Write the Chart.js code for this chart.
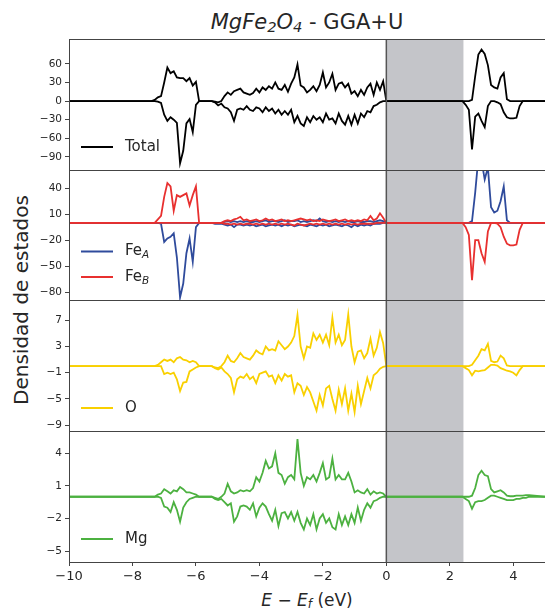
<!DOCTYPE html>
<html>
<head>
<meta charset="UTF-8">
<title>MgFe2O4 - GGA+U</title>
<script src="https://cdn.jsdelivr.net/npm/chart.js"></script>
<style>
    body { margin: 0; background: #fff; font-family: "DejaVu Sans", sans-serif; color: #262626; }
    .wrap { position: relative; width: 545px; height: 610px; overflow: hidden; }
    .wrap canvas { position: absolute; left: 0; }
    .title { position: absolute; left: 307px; top: 22px; transform: translate(-50%, -50%); font-size: 21px; white-space: nowrap; line-height: 1; }
    .ylabel { position: absolute; left: 21px; top: 300px; transform: translate(-50%, -50%) rotate(-90deg); font-size: 20px; white-space: nowrap; line-height: 1; }
    .xlabel { position: absolute; left: 307px; top: 600px; transform: translate(-50%, -50%); font-size: 17px; white-space: nowrap; line-height: 1; }
    sub { font-size: 70%; line-height: 0; vertical-align: -0.25em; }
</style>
</head>
<body>
<div class="wrap">
    <div class="title"><i>MgFe<sub>2</sub>O<sub>4</sub></i> - GGA+U</div>
    <div class="ylabel">Densidad de estados</div>
    <div class="xlabel"><i>E</i> &minus; <i>E<sub>f</sub></i> (eV)</div>
    <canvas id="pTotal" width="545" height="155" style="top:27px"></canvas>
    <canvas id="pFe" width="545" height="154" style="top:158px"></canvas>
    <canvas id="pO" width="545" height="155" style="top:288px"></canvas>
    <canvas id="pMg" width="545" height="191" style="top:419px"></canvas>
</div>
<script>
// energy grids (eV): valence region and conduction region
const eVB = [-7.5,-7.4,-7.3,-7.2,-7.1,-7.0,-6.9,-6.8,-6.7,-6.6,
             -6.5,-6.4,-6.3,-6.2,-6.1,-6.0,-5.9,-5.8,-5.7,-5.6,
             -5.5,-5.4,-5.3,-5.2,-5.1,-5.0,-4.9,-4.8,-4.7,-4.6,
             -4.5,-4.4,-4.3,-4.2,-4.1,-4.0,-3.9,-3.8,-3.7,-3.6,
             -3.5,-3.4,-3.3,-3.2,-3.1,-3.0,-2.9,-2.8,-2.7,-2.6,
             -2.5,-2.4,-2.3,-2.2,-2.1,-2.0,-1.9,-1.8,-1.7,-1.6,
             -1.5,-1.4,-1.3,-1.2,-1.1,-1.0,-0.9,-0.8,-0.7,-0.6,
             -0.5,-0.4,-0.3,-0.2,-0.1,0.0];
const eCB = [2.4,2.5,2.6,2.7,2.8,2.9,3.0,3.1,3.2,3.3,3.4,3.5,3.6,3.7,3.8,3.9,4.0,4.1,4.2,4.3,4.4,4.5];

// Total
const totalUpVB = [0,0,2,6,8,30,54,45,48,38,
                   37,37,32,37,25,31,0,0,0,0,
                   0,-1,-2,0,8,14,10,16,18,20,
                   14,12,10,13,20,14,22,18,24,20,
                   30,20,18,26,15,28,38,59,25,22,
                   14,18,24,16,26,46,22,30,44,18,
                   28,30,22,28,12,16,8,18,10,22,
                   28,10,30,18,32,0];
const totalDnVB = [0,0,0,-1,-3,-22,-32,-26,-30,-35,
                   -100,-80,-36,-29,-50,-6,0,0,0,0,
                   0,-2,-7,-4,-10,-12,-18,-32,-14,-12,
                   -14,-8,-14,-16,-10,-12,-18,-10,-16,-12,
                   -20,-14,-22,-16,-22,-14,-34,-24,-36,-40,
                   -26,-34,-24,-30,-26,-34,-20,-30,-28,-36,
                   -20,-32,-38,-24,-38,-22,-36,-20,-26,-16,
                   -18,-8,-6,-2,0,0];
const totalUpCB = [0,0,0,2,40,75,83,76,58,26,22,20,38,45,3,0,0,0,0,0,0,0];
const totalDnCB = [0,-6,-14,-78,-25,-20,-32,-42,-8,0,0,-2,-5,-18,-26,-28,-28,-27,-8,0,0,0];

// Fe A (tetrahedral) and Fe B (octahedral)
const feAUpVB = [0,0,0,0,0,0,0,0,0,0,
                 0,0,0,0,0,0,0,0,0,0,
                 0,0,0,0,1,2,1,2,1,2,
                 1,2,1,1,2,1,2,3,1,2,
                 2,1,2,3,1,2,2,3,1,2,
                 1,2,3,2,5,2,1,2,1,2,
                 1,2,1,2,1,1,2,1,1,2,
                 2,1,2,3,2,0];
const feADnVB = [0,0,0,0,-1,-22,-18,-16,-12,-40,
                 -86,-70,-35,-18,-45,-5,0,0,0,0,
                 0,-1,-1,-1,-2,-3,-2,-5,-2,-2,
                 -3,-2,-3,-2,-4,-3,-2,-4,-3,-2,
                 -3,-2,-4,-2,-3,-2,-4,-3,-2,-3,
                 -4,-2,-3,-4,-2,-3,-2,-4,-3,-2,
                 -3,-4,-2,-3,-5,-2,-4,-2,-3,-2,
                 -3,-1,-1,-1,0,0];
const feBUpVB = [0,0,0,4,8,30,46,42,14,32,
                 30,32,34,20,32,42,0,0,0,0,
                 0,0,0,0,2,3,2,4,5,7,
                 3,4,2,3,4,2,3,5,3,4,
                 2,3,4,2,3,2,3,4,5,4,
                 3,4,2,3,2,4,3,2,3,4,
                 2,3,4,2,3,2,3,2,4,3,
                 8,3,5,11,6,0];
const feBDnVB = [0,0,0,0,0,0,0,0,0,0,
                 0,0,0,0,0,0,0,0,0,0,
                 0,0,0,0,-1,-1,-2,-1,-2,-1,
                 -2,-1,-1,-2,-1,-2,-1,-2,-1,-2,
                 -1,-2,-1,-2,-1,-2,-3,-1,-2,-3,
                 -2,-1,-2,-1,-2,-1,-2,-1,-2,-1,
                 -2,-1,-2,-1,-2,-1,-2,-1,-1,-1,
                 -1,-1,0,0,0,0];
const feAUpCB = [0,0,0,2,35,75,72,50,64,18,12,14,25,42,3,0,0,0,0,0,0,0];
const feADnCB = [0,0,0,0,0,0,0,0,0,0,0,0,0,0,0,0,0,0,0,0,0,0];
const feBUpCB = [0,0,0,0,0,0,0,0,0,0,0,0,0,0,0,0,0,0,0,0,0,0];
const feBDnCB = [0,-5,-14,-66,-20,-20,-35,-45,-10,0,0,-1,-5,-16,-24,-26,-26,-25,-8,0,0,0];

// O
const oUpVB = [0,0,0,0.2,0.6,1.0,0.8,1.0,0.6,1.2,
               1.4,1.0,0.9,0.6,0.8,0.6,0,0,0,0,
               0,-0.2,-0.3,0,0.6,1.6,0.8,0.6,1.2,2.0,
               1.4,1.2,1.0,1.6,2.4,2.0,1.8,3.0,2.4,2.6,
               2.4,3.8,3.2,2.6,3.0,3.6,4.6,7.8,3.0,1.2,
               3.0,2.8,5.0,4.0,4.8,3.6,4.8,3.2,7.4,3.6,
               4.8,3.2,4.0,7.9,3.0,0.6,2.2,2.4,1.2,2.0,
               4.2,1.6,2.8,5.2,3.5,0];
const oDnVB = [0,0,0,0,0,-1.2,-1.0,-1.2,-1.0,-2.0,
               -3.8,-2.5,-2.4,-0.8,-0.5,-0.2,0,0,0,0,
               0,-0.3,-0.5,-0.2,-0.8,-1.2,-1.8,-4.0,-2.0,-1.6,
               -1.8,-1.2,-2.0,-1.6,-2.6,-1.2,-1.0,-0.8,-1.6,-1.4,
               -2.6,-1.4,-2.2,-1.2,-1.6,-1.4,-4.0,-2.6,-3.0,-4.4,
               -3.2,-4.0,-5.4,-6.8,-4.4,-6.0,-3.4,-3.0,-5.0,-6.8,
               -3.6,-5.8,-3.4,-6.8,-4.2,-7.0,-3.0,-5.8,-3.8,-1.8,
               -3.4,-1.4,-1.0,-0.4,-0.1,0];
const oUpCB = [0,0,0,0.2,0.9,1.6,2.6,2.4,3.4,0.8,0.6,0.7,1.6,1.2,0.1,0,0,0,0,0,0,0];
const oDnCB = [0,-0.3,-0.6,-1.4,-0.7,-0.8,-0.7,-0.6,-0.2,0.2,0.2,0.1,-0.3,-0.5,-0.7,-0.8,-1.0,-1.4,-0.6,0,0,0];

// Mg
const mgUpVB = [0,0,0,0.2,0.3,0.7,0.5,0.3,0.6,0.5,
                0.9,0.7,0.4,0.4,0.3,0.2,0,0,0,0,
                0,-0.1,-0.2,0,0.3,1.2,0.5,0.3,0.4,0.6,
                0.5,0.6,0.5,0.8,1.8,1.4,2.2,3.3,2.6,2.8,
                4.0,2.2,2.0,1.2,1.8,2.0,1.6,5.3,2.2,1.0,
                1.8,1.6,2.0,1.4,2.2,3.1,1.6,1.8,3.5,1.6,
                2.0,1.6,1.6,2.2,1.4,0.4,0.6,0.4,0.3,0.7,
                0.2,0.5,0.3,0.4,0.3,0];
const mgDnVB = [0,0,0,0,-0.1,-0.9,-1.0,-1.4,-0.5,-1.2,
                -2.3,-1.0,-0.5,-0.2,-0.1,0,0,0,0,0,
                0,-0.2,-0.3,-0.2,-0.5,-0.8,-0.6,-2.3,-1.8,-0.9,
                -0.8,-0.9,-1.2,-0.6,-1.8,-1.0,-0.6,-0.9,-1.6,-2.2,
                -1.2,-2.7,-1.5,-1.4,-2.0,-1.4,-2.2,-1.4,-2.4,-3.0,
                -2.0,-2.6,-1.6,-3.0,-2.0,-1.6,-2.4,-2.0,-2.8,-3.0,
                -1.6,-2.6,-1.8,-2.6,-1.6,-2.4,-1.0,-2.2,-1.2,-0.6,
                -1.0,-0.4,-0.3,-0.1,0,0];
const mgUpCB = [0,0,0,0.1,0.8,2.0,2.4,2.0,1.9,0.7,0.4,0.5,0.6,0.4,0.1,0.05,0.05,0.1,0.1,0.1,0.15,0.15];
const mgDnCB = [0,-0.2,-0.4,-1.1,-0.5,-0.4,-0.4,-0.3,-0.1,0.1,0.1,0,-0.1,-0.2,-0.3,-0.3,-0.3,-0.2,-0.2,-0.1,-0.1,0];

// axes
const xRange = [-10, 5];
const xTicks = [-10, -8, -6, -4, -2, 0, 2, 4];
const gap = [0, 2.43];
const yTotal = { min: -111, max: 100, ticks: [60, 30, 0, -30, -60, -90] };
const yFe = { min: -89, max: 61, ticks: [40, 10, -20, -50, -80] };
const yO = { min: -9.9, max: 10.1, ticks: [7, 3, -1, -5, -9] };
const yMg = { min: -6, max: 6.05, ticks: [4, 1, -2, -5] };

const spine = '#444';
const textColor = '#262626';
const PAD = 12;

function series(vb, cb) {
    const pts = [{ x: xRange[0], y: 0 }];
    eVB.forEach((e, i) => pts.push({ x: e, y: vb[i] }));
    eCB.forEach((e, i) => pts.push({ x: e, y: cb[i] }));
    pts.push({ x: xRange[1], y: 0 });
    return pts;
}

function fmt(v) {
    return v < 0 ? '\u2212' + Math.abs(v) : String(v);
}

const gapBand = {
    id: 'gapBand',
    beforeDatasetsDraw(chart) {
        const { ctx, chartArea: a, scales: { x } } = chart;
        const x0 = x.getPixelForValue(gap[0]);
        const x1 = x.getPixelForValue(gap[1]);
        ctx.save();
        ctx.fillStyle = '#c4c5c9';
        ctx.fillRect(x0, a.top, x1 - x0, a.bottom - a.top);
        ctx.restore();
    },
    afterDatasetsDraw(chart) {
        const { ctx, chartArea: a, scales: { x } } = chart;
        const x0 = x.getPixelForValue(gap[0]);
        ctx.save();
        ctx.strokeStyle = '#555';
        ctx.lineWidth = 1.5;
        ctx.beginPath();
        ctx.moveTo(x0, a.top);
        ctx.lineTo(x0, a.bottom);
        ctx.stroke();
        ctx.strokeStyle = spine;
        ctx.lineWidth = 1;
        ctx.strokeRect(a.left + 0.5, a.top + 0.5, a.right - a.left, a.bottom - a.top);
        ctx.restore();
    }
};

const panelLegend = {
    id: 'panelLegend',
    afterDraw(chart, args, opts) {
        const { ctx, chartArea: a } = chart;
        const items = opts.items || [];
        items.forEach((it, i) => {
            const y = a.bottom - 23 - (items.length - 1 - i) * 25.5;
            ctx.save();
            ctx.strokeStyle = it.color;
            ctx.lineWidth = 2;
            ctx.beginPath();
            ctx.moveTo(a.left + 12, y);
            ctx.lineTo(a.left + 44, y);
            ctx.stroke();
            ctx.fillStyle = textColor;
            ctx.textBaseline = 'middle';
            ctx.font = '15px "DejaVu Sans"';
            ctx.fillText(it.text, a.left + 56, y);
            if (it.sub) {
                const w = ctx.measureText(it.text).width;
                ctx.font = 'italic 10.5px "DejaVu Sans"';
                ctx.fillText(it.sub, a.left + 56 + w, y + 4);
            }
            ctx.restore();
        });
    }
};

function line(data, color) {
    return { data, borderColor: color, borderWidth: 1.8, pointRadius: 0, tension: 0, fill: false };
}

function makePanel(id, y, datasets, legendItems, showX) {
    new Chart(document.getElementById(id), {
        type: 'line',
        data: { datasets },
        plugins: [gapBand, panelLegend],
        options: {
            responsive: false,
            animation: false,
            devicePixelRatio: 1,
            layout: { padding: { top: PAD, bottom: showX ? 0 : PAD, left: 0, right: 0 } },
            plugins: {
                legend: { display: false },
                tooltip: { enabled: false },
                panelLegend: { items: legendItems }
            },
            scales: {
                x: {
                    type: 'linear',
                    min: xRange[0], max: xRange[1],
                    display: showX,
                    afterBuildTicks: ax => { ax.ticks = xTicks.map(v => ({ value: v })); },
                    afterFit: ax => { if (showX) ax.height = 48; },
                    grid: { drawOnChartArea: false, drawTicks: true, tickLength: 4, color: spine },
                    border: { display: false },
                    ticks: {
                        color: textColor, padding: 3, maxRotation: 0, autoSkip: false,
                        font: { family: 'DejaVu Sans', size: 13 },
                        callback: v => fmt(v)
                    }
                },
                y: {
                    type: 'linear',
                    min: y.min, max: y.max,
                    afterBuildTicks: ax => { ax.ticks = y.ticks.map(v => ({ value: v })); },
                    afterFit: ax => { ax.width = 69; },
                    grid: { drawOnChartArea: false, drawTicks: true, tickLength: 4, color: spine },
                    border: { display: false },
                    ticks: {
                        color: textColor, padding: 3, autoSkip: false,
                        font: { family: 'DejaVu Sans', size: 10.5 },
                        callback: v => fmt(v)
                    }
                }
            }
        }
    });
}

const black = '#000000', blue = '#2f4b9c', red = '#e8302f', gold = '#f9d000', green = '#4cb140';

makePanel('pTotal', yTotal, [
    line(series(totalUpVB, totalUpCB), black),
    line(series(totalDnVB, totalDnCB), black)
], [{ text: 'Total', color: black }], false);

makePanel('pFe', yFe, [
    line(series(feBUpVB, feBUpCB), red),
    line(series(feBDnVB, feBDnCB), red),
    line(series(feAUpVB, feAUpCB), blue),
    line(series(feADnVB, feADnCB), blue)
], [{ text: 'Fe', sub: 'A', color: blue }, { text: 'Fe', sub: 'B', color: red }], false);

makePanel('pO', yO, [
    line(series(oUpVB, oUpCB), gold),
    line(series(oDnVB, oDnCB), gold)
], [{ text: 'O', color: gold }], false);

makePanel('pMg', yMg, [
    line(series(mgUpVB, mgUpCB), green),
    line(series(mgDnVB, mgDnCB), green)
], [{ text: 'Mg', color: green }], true);
</script>
</body>
</html>
